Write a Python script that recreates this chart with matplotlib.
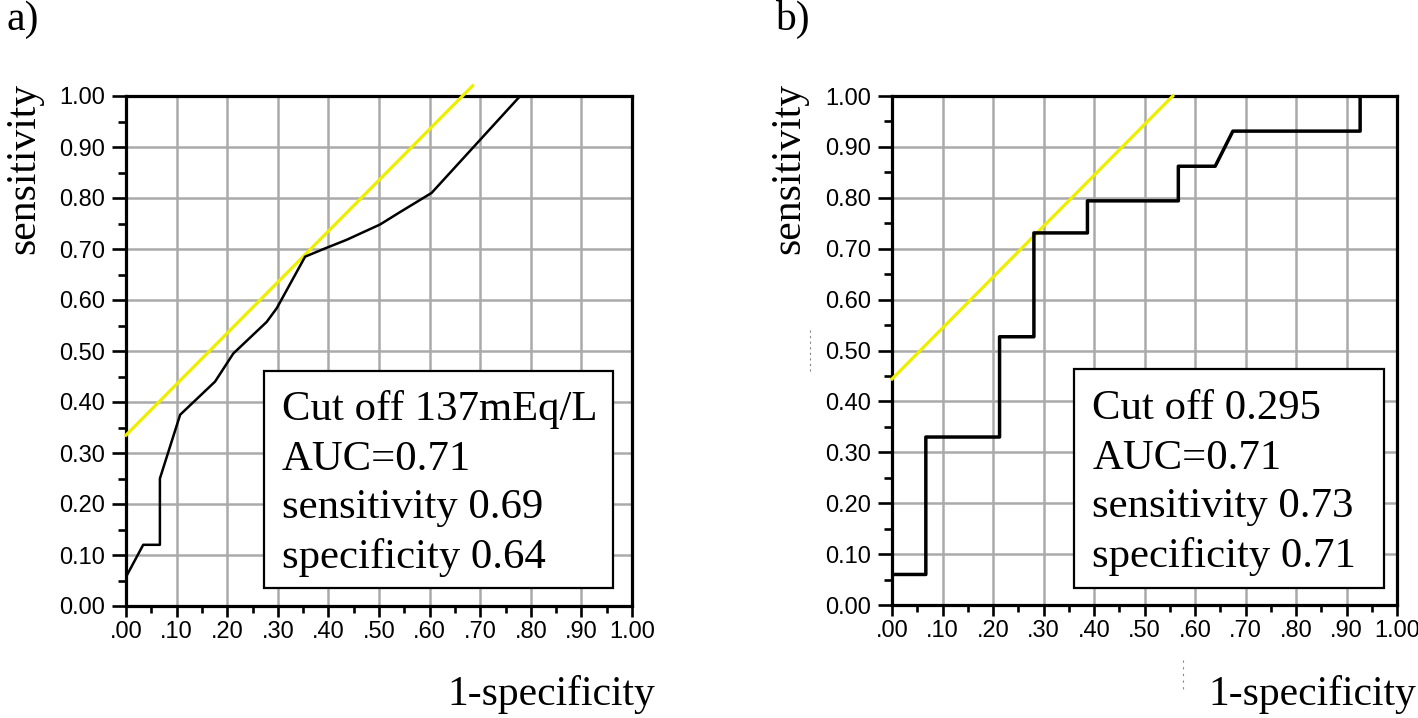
import matplotlib
matplotlib.use("Agg")
import matplotlib.pyplot as plt
from matplotlib.lines import Line2D
from matplotlib.patches import Rectangle
from matplotlib.ticker import MultipleLocator
import numpy as np

# panel a: ROC curve (1-specificity, sensitivity)
roc_a_x = [0.0, 0.034, 0.067, 0.067, 0.107, 0.176, 0.212, 0.278, 0.298, 0.354,
           0.393, 0.436, 0.502, 0.541, 0.604, 0.779, 1.0]
roc_a_y = [0.057, 0.12, 0.12, 0.25, 0.375, 0.44, 0.495, 0.557, 0.584, 0.685,
           0.701, 0.718, 0.748, 0.772, 0.81, 1.0, 1.0]
ref_a_x = [0.0, 0.685]
ref_a_y = [0.335, 1.02]
box_a = ["Cut off 137mEq/L", "AUC=0.71", "sensitivity 0.69", "specificity 0.64"]

# panel b: stepwise ROC curve
roc_b_x = [0.0, 0.067, 0.067, 0.213, 0.213, 0.281, 0.281, 0.387, 0.387, 0.567,
           0.567, 0.640, 0.675, 0.927, 0.927, 1.0]
roc_b_y = [0.06, 0.06, 0.33, 0.33, 0.527, 0.527, 0.731, 0.731, 0.794, 0.794,
           0.862, 0.862, 0.931, 0.931, 1.0, 1.0]
ref_b_x = [0.0, 0.556]
ref_b_y = [0.444, 1.0]
box_b = ["Cut off 0.295", "AUC=0.71", "sensitivity 0.73", "specificity 0.71"]

ticks = np.round(np.arange(0, 1.01, 0.1), 2)
xtick_labels = [".00", ".10", ".20", ".30", ".40", ".50", ".60", ".70", ".80", ".90", "1.00"]
ytick_labels = ["0.00", "0.10", "0.20", "0.30", "0.40", "0.50", "0.60", "0.70", "0.80", "0.90", "1.00"]

W, H = 1418, 718
SERIF = "Liberation Serif"
SANS = "Liberation Sans"
YELLOW = "#eeee00"

fig = plt.figure(figsize=(W / 100, H / 100), dpi=100)


def panel(rect, rx, ry, lw, refx, refy, box_rect, text_x, lines):
    ax = fig.add_axes(rect)
    ax.set_xlim(0, 1); ax.set_ylim(0, 1)
    ax.set_xticks(ticks); ax.set_yticks(ticks)
    ax.xaxis.set_minor_locator(MultipleLocator(0.05))
    ax.yaxis.set_minor_locator(MultipleLocator(0.05))
    ax.set_xticklabels(xtick_labels, fontsize=17, family=SANS)
    ax.set_yticklabels(ytick_labels, fontsize=17, family=SANS)
    ax.tick_params(axis="x", which="major", length=8, width=1.9, pad=3)
    ax.tick_params(axis="x", which="minor", length=5, width=1.9)
    ax.tick_params(axis="y", which="major", length=10, width=1.9, pad=5)
    ax.tick_params(axis="y", which="minor", length=6, width=1.9)
    ax.grid(True, which="major", color="#aaaaaa", lw=1.8)
    for s in ax.spines.values():
        s.set_linewidth(2.3)
    ax.plot(refx, refy, color=YELLOW, lw=2.3, clip_on=False, zorder=3)
    ax.plot(rx, ry, color="black", lw=lw, zorder=4)
    x0, y0, x1, y1 = box_rect
    ax.add_patch(Rectangle((x0, y0), x1 - x0, y1 - y0, transform=ax.transAxes,
                           facecolor="white", edgecolor="black", lw=1.6, zorder=5))
    for t, yb in zip(lines, [0.3647, 0.2667, 0.172, 0.0739]):
        ax.text(text_x, yb, t, transform=ax.transAxes, fontsize=30.8, family=SERIF,
                va="baseline", ha="left", zorder=6)
    return ax


panel([126 / W, 1 - 606 / H, 506 / W, 510 / H], roc_a_x, roc_a_y, 1.8, ref_a_x, ref_a_y,
      (0.272, 0.035, 0.962, 0.461), 0.308, box_a)
panel([892 / W, 1 - 605 / H, 505 / W, 509 / H], roc_b_x, roc_b_y, 2.5, ref_b_x, ref_b_y,
      (0.360, 0.033, 0.974, 0.4637), 0.397, box_b)

# figure-level labels
for x in (24, 789):
    fig.text(x / W, 1 - 83 / H, "sensitivity", rotation=90, fontsize=30, family=SERIF,
             ha="center", va="top")
fig.text(447 / W, 1 - 705 / H, "1-specificity", fontsize=30, family=SERIF, va="baseline")
fig.text(1208 / W, 1 - 705 / H, "1-specificity", fontsize=30, family=SERIF, va="baseline")
fig.text(7 / W, 1 - 30 / H, "a)", fontsize=30, family=SERIF, va="baseline")
fig.text(775 / W, 1 - 30 / H, "b)", fontsize=30, family=SERIF, va="baseline")

# faint scan marks
fig.add_artist(Line2D([810 / W, 810 / W], [1 - 330 / H, 1 - 372 / H], color="#888888",
                      lw=0.8, ls=(0, (2, 3))))
fig.add_artist(Line2D([1183 / W, 1183 / W], [1 - 660 / H, 1 - 690 / H], color="#888888",
                      lw=0.8, ls=(0, (2, 4))))

fig.savefig("out.png", dpi=100)
plt.close(fig)
